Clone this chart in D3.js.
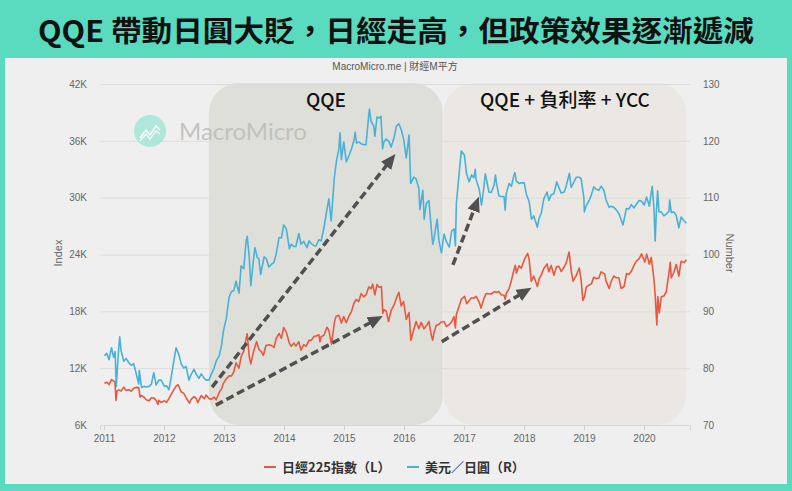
<!DOCTYPE html>
<html>
<head>
<meta charset="utf-8">
<script src="https://cdn.jsdelivr.net/npm/d3@7"></script>
<style>
  body { margin: 0; background: #5adbbf; }
  svg { display: block; }
  .tick text { font-family: "Liberation Sans", Arial, sans-serif; font-size: 10px; fill: #666; }
</style>
</head>
<body>
<div id="chart"></div>
<script>
// Nikkei 225 index (left axis), roughly twice a month
var nikkei = [
  ['2011-01-04',10400],['2011-01-18',10520],['2011-02-01',10270],['2011-02-16',10800],['2011-03-01',10620],['2011-03-09',10590],
  ['2011-03-15',8600],['2011-03-22',9600],['2011-04-01',9710],['2011-04-15',9590],['2011-05-02',10000],['2011-05-16',9650],
  ['2011-06-01',9720],['2011-06-15',9570],['2011-07-01',9870],['2011-07-15',9970],['2011-08-01',9950],['2011-08-09',8940],
  ['2011-08-16',9110],['2011-09-01',8950],['2011-09-15',8670],['2011-10-03',8550],['2011-10-17',8880],['2011-11-01',8840],
  ['2011-11-15',8600],['2011-11-25',8160],['2011-12-01',8600],['2011-12-15',8380],
  ['2012-01-04',8560],['2012-01-16',8380],['2012-02-01',8800],['2012-02-15',9260],['2012-03-01',9700],['2012-03-15',10100],
  ['2012-03-27',10250],['2012-04-16',9470],['2012-05-01',9350],['2012-05-15',8900],['2012-06-04',8300],['2012-06-15',8720],
  ['2012-07-02',9000],['2012-07-17',8750],['2012-07-25',8370],['2012-08-15',9100],['2012-09-03',8780],['2012-09-14',9160],
  ['2012-10-01',8800],['2012-10-15',8700],['2012-11-01',8950],['2012-11-14',8660],['2012-12-03',9450],['2012-12-17',9830],
  ['2012-12-28',10400],
  ['2013-01-15',10880],['2013-02-01',11190],['2013-02-15',11170],['2013-03-01',11600],['2013-03-15',12560],['2013-04-02',12000],
  ['2013-04-15',13220],['2013-05-01',13800],['2013-05-15',15100],['2013-05-22',15630],['2013-06-03',13260],['2013-06-13',12450],
  ['2013-07-01',13850],['2013-07-18',14810],['2013-08-01',14000],['2013-08-15',13750],['2013-08-28',13340],['2013-09-13',14400],
  ['2013-10-01',14480],['2013-10-15',14400],['2013-11-01',14200],['2013-11-15',15160],['2013-12-02',15660],['2013-12-16',15150],
  ['2013-12-30',16290],
  ['2014-01-15',15800],['2014-02-03',14620],['2014-02-14',14310],['2014-03-03',14650],['2014-03-14',14330],['2014-04-01',14790],
  ['2014-04-14',13910],['2014-05-01',14480],['2014-05-15',14300],['2014-06-02',14940],['2014-06-16',14930],['2014-07-01',15330],
  ['2014-07-15',15400],['2014-08-01',15520],['2014-08-08',14780],['2014-08-15',15320],['2014-09-01',15480],['2014-09-19',16320],
  ['2014-10-01',16000],['2014-10-17',14530],['2014-11-04',16860],['2014-11-14',17490],['2014-12-01',17590],['2014-12-16',16760],
  ['2014-12-30',17450],
  ['2015-01-15',16800],['2015-02-02',17560],['2015-02-16',18000],['2015-03-02',18830],['2015-03-16',19250],['2015-04-01',19030],
  ['2015-04-15',19870],['2015-05-01',19530],['2015-05-15',19730],['2015-06-01',20570],['2015-06-15',20390],['2015-06-24',20870],
  ['2015-07-08',19740],['2015-07-21',20840],['2015-08-03',20550],['2015-08-17',20620],['2015-08-25',17810],['2015-09-01',18170],
  ['2015-09-15',18030],['2015-09-29',16930],['2015-10-15',18100],['2015-11-02',18680],['2015-11-16',19390],['2015-12-01',20010],
  ['2015-12-15',18570],['2015-12-30',19030],
  ['2016-01-15',17150],['2016-02-01',17870],['2016-02-12',14950],['2016-03-01',16090],['2016-03-15',16920],['2016-04-01',16160],
  ['2016-04-15',16850],['2016-05-02',16150],['2016-05-16',16470],['2016-06-01',16950],['2016-06-16',15430],['2016-06-24',14950],
  ['2016-07-01',15680],['2016-07-15',16500],['2016-08-01',16630],['2016-08-15',16870],['2016-09-01',16920],['2016-09-15',16400],
  ['2016-10-03',16600],['2016-10-17',16900],['2016-11-01',17440],['2016-11-09',16250],['2016-11-15',17670],['2016-12-01',18510],
  ['2016-12-15',19270],
  ['2017-01-04',19590],['2017-01-17',18810],['2017-02-01',19150],['2017-02-15',19440],['2017-03-01',19390],['2017-03-15',19580],
  ['2017-04-03',18980],['2017-04-14',18340],['2017-05-01',19310],['2017-05-15',19870],['2017-06-01',19860],['2017-06-15',19830],
  ['2017-07-03',20060],['2017-07-18',20000],['2017-08-01',20080],['2017-08-15',19750],['2017-09-01',19690],['2017-09-08',19270],
  ['2017-09-15',19910],['2017-10-02',20400],['2017-10-16',21260],['2017-11-01',22420],['2017-11-09',22870],['2017-11-15',22030],
  ['2017-12-01',22820],['2017-12-15',22550],
  ['2018-01-04',23510],['2018-01-23',24120],['2018-02-01',23490],['2018-02-14',21150],['2018-03-01',21720],['2018-03-23',20620],
  ['2018-04-02',21390],['2018-04-16',21840],['2018-05-01',22510],['2018-05-21',23000],['2018-06-01',22170],['2018-06-15',22850],
  ['2018-07-02',21810],['2018-07-17',22700],['2018-08-01',22750],['2018-08-15',22200],['2018-09-03',22710],['2018-09-14',23090],
  ['2018-10-02',24270],['2018-10-15',22270],['2018-10-26',21180],['2018-11-15',21800],['2018-12-03',22570],['2018-12-14',21370],
  ['2018-12-25',19160],
  ['2019-01-04',19560],['2019-01-15',20560],['2019-02-01',20790],['2019-02-15',20900],['2019-03-01',21600],['2019-03-15',21450],
  ['2019-04-01',21510],['2019-04-15',22170],['2019-05-07',21920],['2019-05-15',21190],['2019-06-03',20410],['2019-06-14',21120],
  ['2019-07-01',21730],['2019-07-16',21540],['2019-08-01',21540],['2019-08-15',20410],['2019-09-02',20620],['2019-09-17',22000],
  ['2019-10-01',21890],['2019-10-15',22200],['2019-11-01',22850],['2019-11-15',23300],['2019-12-02',23530],['2019-12-17',24070],
  ['2020-01-06',23200],['2020-01-17',24040],['2020-02-03',22970],['2020-02-14',23690],['2020-03-02',21340],['2020-03-09',19700],
  ['2020-03-19',16550],['2020-03-25',19550],['2020-04-03',17820],['2020-04-15',19550],['2020-05-01',19620],['2020-05-15',20040],
  ['2020-06-01',22060],['2020-06-09',23180],['2020-06-15',21530],['2020-07-01',22120],['2020-07-15',22950],['2020-07-31',21710],
  ['2020-08-14',23290],['2020-09-01',23140],['2020-09-15',23450]
];

// USD/JPY (right axis)
var usdjpy = [
  ['2011-01-04',82.2],['2011-01-18',82.6],['2011-02-01',81.5],['2011-02-16',83.6],['2011-03-01',81.9],['2011-03-10',82.9],
  ['2011-03-17',76.8],['2011-03-31',83.1],['2011-04-07',85.5],['2011-04-15',83.1],['2011-05-02',81.2],['2011-05-16',81.7],
  ['2011-06-01',81.0],['2011-06-15',80.5],['2011-07-01',80.8],['2011-07-15',79.2],['2011-08-01',77.2],['2011-08-04',79.6],
  ['2011-08-18',76.6],['2011-09-01',76.8],['2011-09-15',76.7],['2011-10-03',76.8],['2011-10-17',77.2],['2011-10-31',79.2],
  ['2011-11-15',77.0],['2011-12-01',77.9],['2011-12-15',77.9],
  ['2012-01-04',76.8],['2012-01-18',76.9],['2012-02-01',76.2],['2012-02-15',78.5],['2012-03-01',81.2],['2012-03-15',83.6],
  ['2012-04-02',82.3],['2012-04-16',80.7],['2012-05-01',80.0],['2012-05-15',80.3],['2012-06-01',77.9],['2012-06-15',78.9],
  ['2012-07-02',79.8],['2012-07-16',78.9],['2012-08-01',78.2],['2012-08-15',79.0],['2012-09-03',78.2],['2012-09-14',77.9],
  ['2012-10-01',77.9],['2012-10-15',78.9],['2012-11-01',80.0],['2012-11-15',81.3],['2012-12-03',82.2],['2012-12-17',84.1],
  ['2012-12-28',86.5],
  ['2013-01-15',88.8],['2013-02-01',92.5],['2013-02-15',93.5],['2013-03-01',93.6],['2013-03-15',95.3],['2013-04-02',93.2],
  ['2013-04-15',98.0],['2013-05-01',97.5],['2013-05-15',102.3],['2013-05-22',103.2],['2013-06-03',99.7],['2013-06-13',94.5],
  ['2013-07-01',99.6],['2013-07-08',101.2],['2013-07-22',99.5],['2013-08-01',99.2],['2013-08-12',96.5],['2013-09-02',99.6],
  ['2013-09-16',99.2],['2013-10-01',97.8],['2013-10-15',98.2],['2013-11-01',98.6],['2013-11-15',100.2],['2013-12-02',103.0],
  ['2013-12-16',102.9],['2013-12-30',105.2],
  ['2014-01-15',104.5],['2014-02-03',101.0],['2014-02-14',101.8],['2014-03-03',101.4],['2014-03-14',101.4],['2014-04-01',103.7],
  ['2014-04-14',101.8],['2014-05-01',102.3],['2014-05-21',101.2],['2014-06-02',102.4],['2014-06-16',101.9],['2014-07-01',101.6],
  ['2014-07-15',101.5],['2014-08-01',102.6],['2014-08-15',102.4],['2014-09-01',104.7],['2014-09-15',107.2],['2014-10-01',109.8],
  ['2014-10-15',105.9],['2014-11-03',113.5],['2014-11-17',116.6],['2014-12-01',118.5],['2014-12-08',121.4],['2014-12-16',116.7],
  ['2014-12-31',119.8],
  ['2015-01-15',116.3],['2015-02-02',117.5],['2015-02-16',118.6],['2015-03-02',120.0],['2015-03-10',121.5],['2015-03-18',119.6],
  ['2015-04-01',119.8],['2015-04-15',119.5],['2015-05-01',119.3],['2015-05-15',119.3],['2015-06-01',124.6],['2015-06-05',125.6],
  ['2015-06-15',123.4],['2015-07-01',122.6],['2015-07-08',120.8],['2015-07-21',124.2],['2015-08-03',124.0],['2015-08-14',124.3],
  ['2015-08-24',118.6],['2015-09-01',119.8],['2015-09-15',120.3],['2015-10-01',119.9],['2015-10-15',118.9],['2015-11-02',120.6],
  ['2015-11-16',122.6],['2015-12-01',123.0],['2015-12-16',121.9],['2015-12-30',120.3],
  ['2016-01-15',117.0],['2016-02-01',121.0],['2016-02-11',112.5],['2016-03-01',113.6],['2016-03-15',113.3],['2016-04-01',111.6],
  ['2016-04-07',107.9],['2016-04-25',111.3],['2016-05-03',106.2],['2016-05-16',109.0],['2016-06-01',109.5],['2016-06-16',104.3],
  ['2016-06-24',101.8],['2016-07-01',102.6],['2016-07-21',106.2],['2016-08-01',102.4],['2016-08-16',100.3],['2016-09-01',103.6],
  ['2016-09-15',102.3],['2016-10-03',101.3],['2016-10-17',104.1],['2016-11-01',104.5],['2016-11-09',101.5],['2016-11-15',109.0],
  ['2016-12-01',114.0],['2016-12-15',118.2],
  ['2017-01-03',117.5],['2017-01-16',114.2],['2017-02-01',112.8],['2017-02-15',114.0],['2017-03-01',113.5],['2017-03-10',115.0],
  ['2017-03-15',113.2],['2017-04-03',111.5],['2017-04-17',108.7],['2017-05-01',111.7],['2017-05-10',114.2],['2017-05-15',113.5],
  ['2017-06-01',111.0],['2017-06-15',110.9],['2017-07-03',112.2],['2017-07-11',114.0],['2017-07-17',112.6],['2017-08-01',110.3],
  ['2017-08-15',110.2],['2017-09-01',110.2],['2017-09-08',107.8],['2017-09-15',110.8],['2017-10-02',112.5],['2017-10-16',112.0],
  ['2017-11-01',114.0],['2017-11-06',114.4],['2017-11-15',112.9],['2017-12-01',112.5],['2017-12-15',112.6],
  ['2018-01-02',112.6],['2018-01-15',110.6],['2018-02-01',109.3],['2018-02-15',106.2],['2018-03-01',106.8],['2018-03-23',104.8],
  ['2018-04-02',106.3],['2018-04-16',107.3],['2018-05-01',109.8],['2018-05-21',111.0],['2018-06-01',109.5],['2018-06-15',110.5],
  ['2018-07-02',110.7],['2018-07-19',112.8],['2018-08-01',111.8],['2018-08-15',110.8],['2018-09-03',111.0],['2018-09-14',112.0],
  ['2018-10-04',114.3],['2018-10-15',111.8],['2018-11-01',112.8],['2018-11-15',113.6],['2018-12-03',113.6],['2018-12-14',113.4],
  ['2018-12-31',110.0],
  ['2019-01-03',107.5],['2019-01-15',108.6],['2019-02-01',109.5],['2019-02-15',110.5],['2019-03-01',111.9],['2019-03-15',111.5],
  ['2019-04-01',111.3],['2019-04-15',112.0],['2019-05-01',111.4],['2019-05-15',109.6],['2019-06-03',108.3],['2019-06-14',108.5],
  ['2019-07-01',108.3],['2019-07-15',107.9],['2019-08-01',107.2],['2019-08-15',106.1],['2019-08-26',105.2],['2019-09-16',108.1],
  ['2019-10-01',108.0],['2019-10-15',108.8],['2019-11-01',108.2],['2019-11-15',108.8],['2019-12-02',109.5],['2019-12-16',109.4],
  ['2020-01-02',108.7],['2020-01-17',110.1],['2020-02-03',108.5],['2020-02-20',112.0],['2020-03-02',107.9],['2020-03-09',102.4],
  ['2020-03-16',107.5],['2020-03-24',111.2],['2020-04-01',107.5],['2020-04-15',107.5],['2020-05-01',106.8],['2020-05-15',107.1],
  ['2020-06-01',107.6],['2020-06-05',109.6],['2020-06-15',107.4],['2020-07-01',107.5],['2020-07-15',106.9],['2020-07-31',104.7],
  ['2020-08-14',106.6],['2020-09-01',105.9],['2020-09-15',105.5]
];

// tick values
var leftTicks = [6000, 12000, 18000, 24000, 30000, 36000, 42000];
var rightTicks = [70, 80, 90, 100, 110, 120, 130];
var yearTicks = [2011, 2012, 2013, 2014, 2015, 2016, 2017, 2018, 2019, 2020];

// policy periods [start, end, label]
var periods = [
  ['2012-10-01', '2016-08-25', 'QQE'],
  ['2016-08-31', '2020-09-13', 'QQE + 負利率 + YCC']
];

// trend arrows [startDate, startValue(L), endDate, endValue(L)]
var arrows = [
  ['2012-10-20', 10000, '2015-11-10', 34600],
  ['2012-11-12', 8100, '2015-08-25', 17500],
  ['2016-10-25', 22900, '2017-04-01', 30100],
  ['2016-08-18', 14800, '2018-02-15', 20500]
];

var width = 792, height = 491;
var margin = {top: 84, right: 102, bottom: 66, left: 100};
var red = '#e9573f', blue = '#48b1d8';
var parse = d3.timeParse('%Y-%m-%d');

var svg = d3.select('#chart').append('svg')
  .attr('width', width)
  .attr('height', height);

// teal frame + grey panel
svg.append('rect').attr('width', width).attr('height', height).attr('fill', '#5adbbf');
svg.append('rect').attr('x', 5).attr('y', 58).attr('width', 782).attr('height', 426).attr('fill', '#efefef');

// title
svg.append('text')
  .attr('x', width / 2).attr('y', 42)
  .attr('text-anchor', 'middle')
  .attr('textLength', 716)
  .attr('lengthAdjust', 'spacingAndGlyphs')
  .style('font-family', '"Noto Sans CJK TC", sans-serif')
  .style('font-size', '29px')
  .style('font-weight', 'bold')
  .style('fill', '#111')
  .text('QQE 帶動日圓大貶，日經走高，但政策效果逐漸遞減');

svg.append('text')
  .attr('x', 395).attr('y', 70)
  .attr('text-anchor', 'middle')
  .style('font-family', '"Liberation Sans", "Noto Sans CJK TC", sans-serif')
  .style('font-size', '10px')
  .style('fill', '#555')
  .text('MacroMicro.me | 財經M平方');

// scales
var xScale = d3.scaleTime()
  .domain([parse('2010-12-08'), parse('2020-10-07')])
  .range([margin.left, width - margin.right]);
var yLeft = d3.scaleLinear().domain([6000, 42000]).range([height - margin.bottom, margin.top]);
var yRight = d3.scaleLinear().domain([70, 130]).range([height - margin.bottom, margin.top]);

// shaded policy periods
var pg = svg.append('g');
pg.selectAll('rect').data(periods).enter().append('rect')
  .attr('x', function(d) { return xScale(parse(d[0])); })
  .attr('width', function(d) { return xScale(parse(d[1])) - xScale(parse(d[0])); })
  .attr('y', yLeft(42000) - 1)
  .attr('height', yLeft(6000) - yLeft(42000) + 1)
  .attr('rx', 30).attr('ry', 30)
  .attr('fill', function(d, i) { return i === 0 ? '#dfdfda' : '#ebe8e3'; });

// grid lines
svg.append('g')
  .attr('transform', 'translate(' + margin.left + ',0)')
  .call(d3.axisLeft(yLeft).tickValues(leftTicks).tickSize(-(width - margin.left - margin.right)).tickFormat(''))
  .call(function(g) {
    g.select('.domain').remove();
    g.selectAll('line').attr('stroke', '#dcdcdc').attr('stroke-width', 1);
  });

// watermark
var wm = svg.append('g').attr('opacity', 0.85);
wm.append('circle').attr('cx', 150).attr('cy', 131).attr('r', 16).attr('fill', '#a6e6d8');
wm.append('path')
  .attr('d', 'M140,138 L146,130 L150,135 L156,126 L160,130')
  .attr('fill', 'none').attr('stroke', '#fff').attr('stroke-width', 1.6);
wm.append('path')
  .attr('d', 'M140,141 L146,134 L150,139 L156,131 L160,134')
  .attr('fill', 'none').attr('stroke', '#fff').attr('stroke-width', 1.2);
wm.append('text')
  .attr('x', 179).attr('y', 140)
  .style('font-family', 'Lato, "Open Sans", sans-serif')
  .style('font-size', '24px')
  .style('fill', '#bcbcbc')
  .text('MacroMicro');

// period labels
pg.selectAll('text').data(periods).enter().append('text')
  .attr('x', function(d) { return (xScale(parse(d[0])) + xScale(parse(d[1]))) / 2; })
  .attr('y', 107)
  .attr('text-anchor', 'middle')
  .style('font-family', '"Noto Sans CJK TC", sans-serif')
  .style('font-size', '19px')
  .style('font-weight', '500')
  .style('fill', '#111')
  .text(function(d) { return d[2]; });

// x axis
svg.append('g')
  .attr('transform', 'translate(0,' + (height - margin.bottom) + ')')
  .call(d3.axisBottom(xScale)
    .tickValues(yearTicks.map(function(y) { return new Date(y, 0, 1); }))
    .tickFormat(d3.timeFormat('%Y')).tickSize(5).tickPadding(5))
  .call(function(g) {
    g.select('.domain').attr('stroke', '#d8d8d8');
    g.selectAll('.tick line').attr('stroke', '#d0d0d0');
  });

// left axis
svg.append('g')
  .attr('transform', 'translate(90,0)')
  .call(d3.axisLeft(yLeft).tickValues(leftTicks).tickSize(0).tickPadding(3)
    .tickFormat(function(d) { return (d / 1000) + 'K'; }))
  .call(function(g) { g.select('.domain').remove(); });

// right axis
svg.append('g')
  .attr('transform', 'translate(700,0)')
  .call(d3.axisRight(yRight).tickValues(rightTicks).tickSize(0).tickPadding(3))
  .call(function(g) { g.select('.domain').remove(); });

// axis titles
svg.append('text')
  .attr('transform', 'translate(62,253) rotate(-90)')
  .attr('text-anchor', 'middle')
  .style('font-family', '"Liberation Sans", Arial, sans-serif')
  .style('font-size', '11px').style('fill', '#666')
  .text('Index');
svg.append('text')
  .attr('transform', 'translate(726,253) rotate(90)')
  .attr('text-anchor', 'middle')
  .style('font-family', '"Liberation Sans", Arial, sans-serif')
  .style('font-size', '11px').style('fill', '#666')
  .text('Number');

// lines
var lineL = d3.line()
  .x(function(d) { return xScale(parse(d[0])); })
  .y(function(d) { return yLeft(d[1]); });
var lineR = d3.line()
  .x(function(d) { return xScale(parse(d[0])); })
  .y(function(d) { return yRight(d[1]); });

svg.append('path').datum(usdjpy)
  .attr('d', lineR)
  .attr('fill', 'none').attr('stroke', blue).attr('stroke-width', 1.6).attr('stroke-linejoin', 'round');
svg.append('path').datum(nikkei)
  .attr('d', lineL)
  .attr('fill', 'none').attr('stroke', red).attr('stroke-width', 1.6).attr('stroke-linejoin', 'round');

// arrows
svg.append('defs').append('marker')
  .attr('id', 'arrowhead')
  .attr('markerUnits', 'userSpaceOnUse')
  .attr('markerWidth', 16).attr('markerHeight', 14)
  .attr('refX', 8).attr('refY', 6.5)
  .attr('orient', 'auto')
  .append('path')
  .attr('d', 'M0,0 L15,6.5 L0,13 Z')
  .attr('fill', '#505050');

svg.append('g').selectAll('line').data(arrows).enter().append('line')
  .each(function(d) {
    var x1 = xScale(parse(d[0])), y1 = yLeft(d[1]);
    var x2 = xScale(parse(d[2])), y2 = yLeft(d[3]);
    var len = Math.sqrt((x2 - x1) * (x2 - x1) + (y2 - y1) * (y2 - y1));
    var k = (len - 7) / len;
    d3.select(this)
      .attr('x1', x1).attr('y1', y1)
      .attr('x2', x1 + (x2 - x1) * k).attr('y2', y1 + (y2 - y1) * k);
  })
  .attr('stroke', '#505050')
  .attr('stroke-width', 3.5)
  .attr('stroke-dasharray', '8,4')
  .attr('marker-end', 'url(#arrowhead)');

// legend
var legend = [['日經225指數（L）', red, 264], ['美元／日圓（R）', blue, 407]];
var lg = svg.append('g').selectAll('g').data(legend).enter().append('g')
  .attr('transform', function(d) { return 'translate(' + d[2] + ',467)'; });
lg.append('line')
  .attr('x1', 0).attr('x2', 12)
  .attr('stroke', function(d) { return d[1]; }).attr('stroke-width', 2);
lg.append('text')
  .attr('x', 18).attr('y', 4.5)
  .style('font-family', '"Noto Sans CJK TC", sans-serif')
  .style('font-size', '13px')
  .style('font-weight', 'bold')
  .style('fill', '#333')
  .text(function(d) { return d[0]; });
</script>
</body>
</html>
